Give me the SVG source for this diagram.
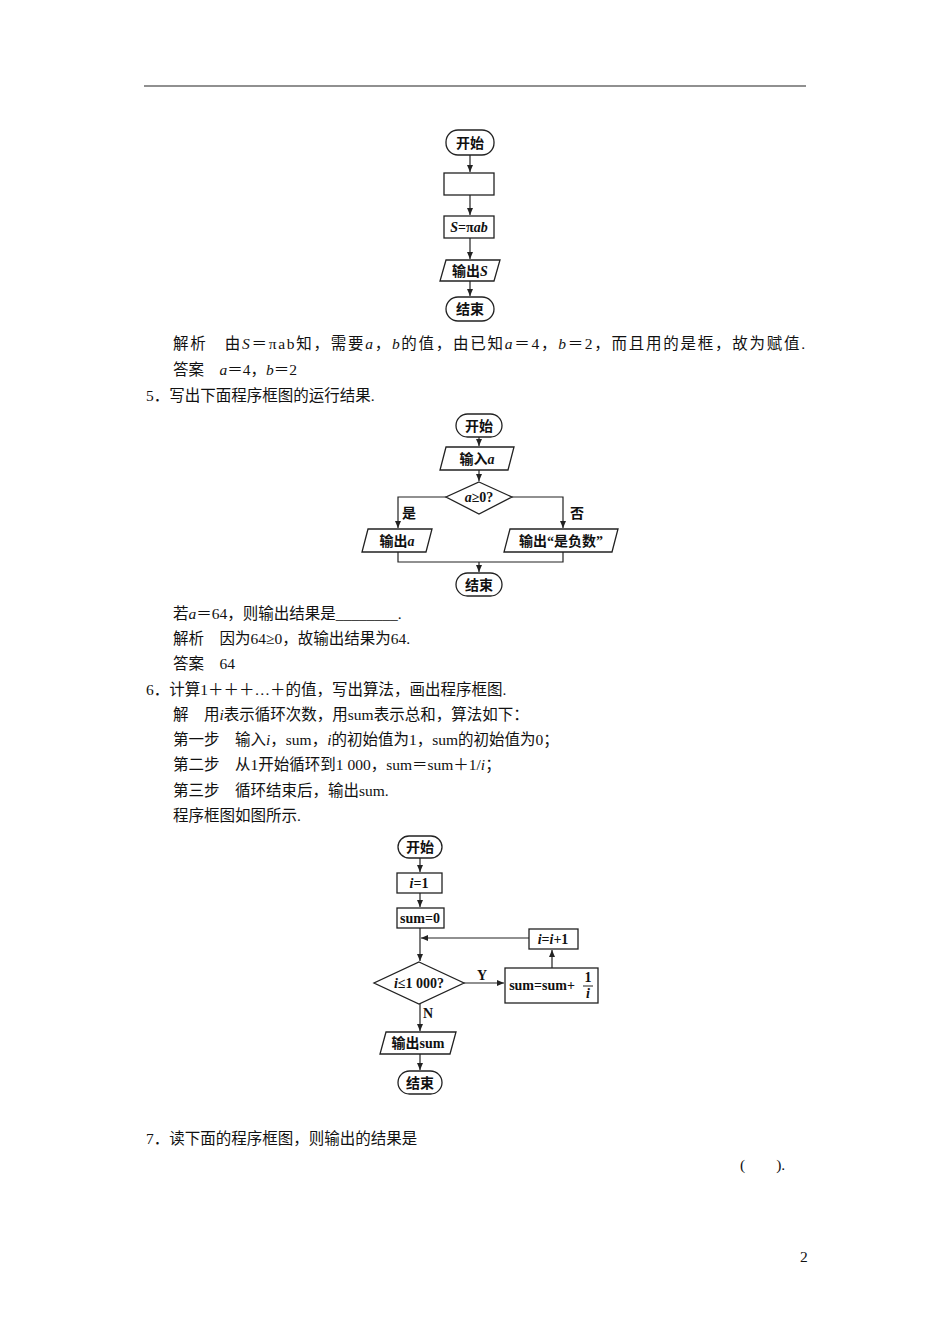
<svg xmlns="http://www.w3.org/2000/svg" width="950" height="1344" viewBox="0 0 950 1344">
<defs>
<marker id="ar" markerWidth="8" markerHeight="8" refX="7" refY="4" orient="auto" markerUnits="userSpaceOnUse"><path d="M0,1 L7,4 L0,7 Z" fill="#222"/></marker>
<style>
.t{font-family:"Liberation Serif","Noto Sans CJK SC",serif;font-size:15.5px;fill:#111}
.n{font-family:"Liberation Serif","Noto Sans CJK SC",serif;font-size:14px;font-weight:bold;fill:#111;text-anchor:middle}
.s{fill:#fff;stroke:#222;stroke-width:1.3}
.c{fill:none;stroke:#222;stroke-width:1.2}
.a{fill:none;stroke:#222;stroke-width:1.2;marker-end:url(#ar)}
</style>
</defs>
<rect width="950" height="1344" fill="#fff"/>
<line x1="144" y1="86" x2="806" y2="86" stroke="#222" stroke-width="1.2"/>
<g id="text">
<text class="t" x="173" y="349" textLength="632">解析　由<tspan font-style="italic">S</tspan>＝πab知，需要<tspan font-style="italic">a</tspan>，<tspan font-style="italic">b</tspan>的值，由已知<tspan font-style="italic">a</tspan>＝4，<tspan font-style="italic">b</tspan>＝2，而且用的是框，故为赋值.</text>
<text class="t" x="173" y="375">答案　<tspan font-style="italic">a</tspan>＝4，<tspan font-style="italic">b</tspan>＝2</text>
<text class="t" x="146" y="401">5．写出下面程序框图的运行结果.</text>
<text class="t" x="173" y="619">若<tspan font-style="italic">a</tspan>＝64，则输出结果是________.</text>
<text class="t" x="173" y="644">解析　因为64≥0，故输出结果为64.</text>
<text class="t" x="173" y="669">答案　64</text>
<text class="t" x="146" y="695">6．计算1＋＋＋…＋的值，写出算法，画出程序框图.</text>
<text class="t" x="173" y="720">解　用<tspan font-style="italic">i</tspan>表示循环次数，用sum表示总和，算法如下：</text>
<text class="t" x="173" y="745">第一步　输入<tspan font-style="italic">i</tspan>，sum，<tspan font-style="italic">i</tspan>的初始值为1，sum的初始值为0；</text>
<text class="t" x="173" y="770">第二步　从1开始循环到1 000，sum＝sum＋1/<tspan font-style="italic">i</tspan>；</text>
<text class="t" x="173" y="796">第三步　循环结束后，输出sum.</text>
<text class="t" x="173" y="821">程序框图如图所示.</text>
<text class="t" x="146" y="1144">7．读下面的程序框图，则输出的结果是</text>
<text class="t" x="740" y="1170">(　　).</text>
<text class="t" x="800" y="1262">2</text>
</g>
<g id="connectors">
<line class="a" x1="470" y1="155" x2="470" y2="172"/>
<line class="a" x1="470" y1="195" x2="470" y2="215"/>
<line class="a" x1="470" y1="238" x2="470" y2="259"/>
<line class="a" x1="470" y1="281" x2="470" y2="296"/>
<line class="a" x1="479" y1="437" x2="479" y2="446"/>
<line class="a" x1="479" y1="470" x2="479" y2="481"/>
<polyline class="a" points="446,497 398,497 398,528"/>
<polyline class="a" points="512,497 563,497 563,528"/>
<polyline class="c" points="398,552 398,562 563,562 563,552"/>
<line class="a" x1="479" y1="562" x2="479" y2="572"/>
<line class="a" x1="420" y1="858" x2="420" y2="872"/>
<line class="a" x1="420" y1="893" x2="420" y2="907"/>
<line class="a" x1="420" y1="928" x2="420" y2="961"/>
<line class="a" x1="529" y1="938" x2="421" y2="938"/>
<line class="a" x1="464" y1="983" x2="504" y2="983"/>
<line class="a" x1="552" y1="968" x2="552" y2="950"/>
<line class="a" x1="420" y1="1004" x2="420" y2="1031"/>
<line class="a" x1="420" y1="1054" x2="420" y2="1070"/>
<text class="n" x="409" y="518" font-weight="normal">是</text>
<text class="n" x="577" y="518" font-weight="normal">否</text>
<text class="n" x="482" y="980">Y</text>
<text class="n" x="428" y="1018">N</text>
</g>
<g id="d1-start"><rect class="s" x="446" y="130" width="48" height="25" rx="12"/><text class="n" x="470" y="148">开始</text></g>
<g id="d1-empty"><rect class="s" x="444" y="173" width="50" height="22"/></g>
<g id="d1-calc"><rect class="s" x="444" y="216" width="50" height="22"/><text class="n" x="469" y="232" font-style="italic">S<tspan font-style="normal">=π</tspan>ab</text></g>
<g id="d1-out"><polygon class="s" points="446,260 500,260 494,281 440,281"/><text class="n" x="470" y="276">输出<tspan font-style="italic">S</tspan></text></g>
<g id="d1-end"><rect class="s" x="446" y="297" width="48" height="24" rx="12"/><text class="n" x="470" y="314">结束</text></g>
<g id="d2-start"><rect class="s" x="456" y="414" width="46" height="23" rx="11.5"/><text class="n" x="479" y="431">开始</text></g>
<g id="d2-in"><polygon class="s" points="446,447 514,447 508,470 440,470"/><text class="n" x="477" y="464">输入<tspan font-style="italic">a</tspan></text></g>
<g id="d2-dec"><polygon class="s" points="479,482 512,497 479,514 446,497"/><text class="n" x="479" y="502"><tspan font-style="italic">a</tspan>≥0?</text></g>
<g id="d2-outa"><polygon class="s" points="368,529 432,529 426,552 362,552"/><text class="n" x="397" y="546">输出<tspan font-style="italic">a</tspan></text></g>
<g id="d2-outn"><polygon class="s" points="510,529 618,529 612,552 504,552"/><text class="n" x="561" y="546">输出“是负数”</text></g>
<g id="d2-end"><rect class="s" x="456" y="573" width="46" height="23" rx="11.5"/><text class="n" x="479" y="590">结束</text></g>
<g id="d3-start"><rect class="s" x="398" y="836" width="44" height="22" rx="11"/><text class="n" x="420" y="852">开始</text></g>
<g id="d3-i1"><rect class="s" x="397" y="873" width="45" height="20"/><text class="n" x="419" y="888"><tspan font-style="italic">i</tspan>=1</text></g>
<g id="d3-sum0"><rect class="s" x="397" y="908" width="47" height="20"/><text class="n" x="420" y="923">sum=0</text></g>
<g id="d3-dec"><polygon class="s" points="419,962 464,983 419,1004 374,983"/><text class="n" x="419" y="988"><tspan font-style="italic">i</tspan>≤1 000?</text></g>
<g id="d3-sum"><rect class="s" x="505" y="968" width="93" height="35"/><text class="n" x="542" y="990">sum=sum+</text><text class="n" x="588" y="982" font-size="12">1</text><line x1="583" y1="986" x2="593" y2="986" stroke="#222"/><text class="n" x="588" y="998" font-size="12" font-style="italic">i</text></g>
<g id="d3-inc"><rect class="s" x="529" y="929" width="49" height="20"/><text class="n" x="553" y="944"><tspan font-style="italic">i</tspan>=<tspan font-style="italic">i</tspan>+1</text></g>
<g id="d3-out"><polygon class="s" points="386,1032 456,1032 450,1054 380,1054"/><text class="n" x="418" y="1048">输出sum</text></g>
<g id="d3-end"><rect class="s" x="398" y="1071" width="44" height="23" rx="11.5"/><text class="n" x="420" y="1088">结束</text></g>
</svg>
